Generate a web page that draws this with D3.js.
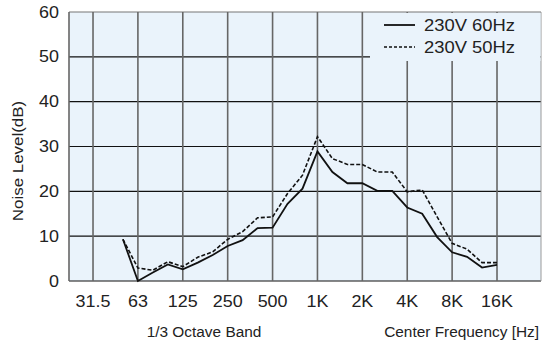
<!DOCTYPE html>
<html>
<head>
<meta charset="utf-8">
<script src="https://cdn.jsdelivr.net/npm/d3@7"></script>
<style>
  body { margin: 0; background: #fff; }
  svg { display: block; font-family: "Liberation Sans", Arial, sans-serif; }
</style>
</head>
<body>
<svg width="542" height="340"></svg>
<script>
// 1/3 octave bands, starting at 50 Hz
var bands = ["50","63","80","100","125","160","200","250","315","400","500","630","800",
  "1K","1.25K","1.6K","2K","2.5K","3.15K","4K","5K","6.3K","8K","10K","12.5K","16K"];
var v60 = [9.3, 0, 1.9, 3.7, 2.6, 4.1, 5.8, 7.8, 9.1, 11.8, 11.9, 17.2, 20.6,
  28.9, 24.3, 21.8, 21.8, 20.1, 20.1, 16.4, 15.0, 9.8, 6.4, 5.4, 3.0, 3.6];
var v50 = [9.3, 2.9, 2.4, 4.3, 3.2, 5.3, 6.5, 9.3, 11.0, 14.1, 14.3, 19.5, 23.6,
  32.2, 27.3, 26.0, 26.0, 24.3, 24.3, 19.9, 20.3, 14.3, 8.4, 7.1, 4.1, 4.1];
var xTicks = ["31.5","63","125","250","500","1K","2K","4K","8K","16K"];
var yTicks = [0, 10, 20, 30, 40, 50, 60];

var svg = d3.select("svg");
var pLeft = 69, pRight = 541, pTop = 12, pBottom = 281;
var bg = "#eaf3fb";

// x in third-octave steps, 31.5 Hz = 0
var x = d3.scaleLinear().domain([-1.605, 29.94]).range([pLeft, pRight]);
var y = d3.scaleLinear().domain([0, 60]).range([pBottom, pTop]);

svg.append("rect")
  .attr("x", pLeft).attr("y", pTop)
  .attr("width", pRight - pLeft).attr("height", pBottom - pTop)
  .attr("fill", bg);

// horizontal grid
svg.append("g").selectAll("line")
  .data(yTicks)
  .enter().append("line")
  .attr("x1", pLeft).attr("x2", pRight)
  .attr("y1", function(d) { return y(d); })
  .attr("y2", function(d) { return y(d); })
  .attr("stroke", function(d) { return d == 60 ? "#777" : "#111"; })
  .attr("stroke-width", 1.2);

// vertical grid
svg.append("g").selectAll("line")
  .data(xTicks)
  .enter().append("line")
  .attr("x1", function(d, i) { return x(i * 3); })
  .attr("x2", function(d, i) { return x(i * 3); })
  .attr("y1", pTop).attr("y2", pBottom)
  .attr("stroke", "#666")
  .attr("stroke-width", 1.6);

svg.append("line")
  .attr("x1", pLeft).attr("x2", pLeft).attr("y1", pTop).attr("y2", pBottom)
  .attr("stroke", "#666").attr("stroke-width", 1.6);
svg.append("line")
  .attr("x1", pRight).attr("x2", pRight).attr("y1", pTop).attr("y2", pBottom)
  .attr("stroke", "#999").attr("stroke-width", 1);

// legend box covers the grid
svg.append("rect")
  .attr("x", 370).attr("y", pTop + 1)
  .attr("width", pRight - 370 - 0.5).attr("height", 48)
  .attr("fill", bg);

var line = d3.line()
  .x(function(d, i) { return x(i + 2); })
  .y(function(d) { return y(d); });

svg.append("path")
  .datum(v50)
  .attr("d", line)
  .attr("fill", "none")
  .attr("stroke", "#111")
  .attr("stroke-width", 1.6)
  .attr("stroke-dasharray", "4,2");

svg.append("path")
  .datum(v60)
  .attr("d", line)
  .attr("fill", "none")
  .attr("stroke", "#111")
  .attr("stroke-width", 1.8);

// tick labels (a bit wide in the original)
svg.append("g").selectAll("text")
  .data(yTicks)
  .enter().append("text")
  .attr("transform", function(d) { return "translate(59," + (y(d) + 5.5) + ") scale(1.12,1)"; })
  .attr("text-anchor", "end")
  .attr("font-size", 16)
  .attr("fill", "#222")
  .text(function(d) { return d; });

svg.append("g").selectAll("text")
  .data(xTicks)
  .enter().append("text")
  .attr("transform", function(d, i) { return "translate(" + x(i * 3) + ",307) scale(1.12,1)"; })
  .attr("text-anchor", "middle")
  .attr("font-size", 16)
  .attr("fill", "#222")
  .text(function(d) { return d; });

svg.append("text")
  .attr("x", 204).attr("y", 337)
  .attr("text-anchor", "middle")
  .attr("font-size", 15.4).attr("fill", "#222")
  .text("1/3 Octave Band");

svg.append("text")
  .attr("x", 539).attr("y", 337)
  .attr("text-anchor", "end")
  .attr("font-size", 15.4).attr("fill", "#222")
  .text("Center Frequency [Hz]");

svg.append("text")
  .attr("transform", "translate(23,161) rotate(-90) scale(1.1,1)")
  .attr("text-anchor", "middle")
  .attr("font-size", 15.4).attr("fill", "#222")
  .text("Noise Level(dB)");

// legend
var legend = [{name: "230V 60Hz", dash: null}, {name: "230V 50Hz", dash: "3,2"}];
var lg = svg.append("g").selectAll("g")
  .data(legend)
  .enter().append("g")
  .attr("transform", function(d, i) { return "translate(384," + (25 + i * 22) + ")"; });
lg.append("line")
  .attr("x1", 0).attr("x2", 31)
  .attr("stroke", "#111")
  .attr("stroke-width", function(d) { return d.dash ? 1.4 : 1.8; })
  .attr("stroke-dasharray", function(d) { return d.dash; });
lg.append("text")
  .attr("transform", "translate(40,5.5) scale(1.15,1)")
  .attr("font-size", 16).attr("fill", "#222")
  .text(function(d) { return d.name; });
</script>
</body>
</html>
